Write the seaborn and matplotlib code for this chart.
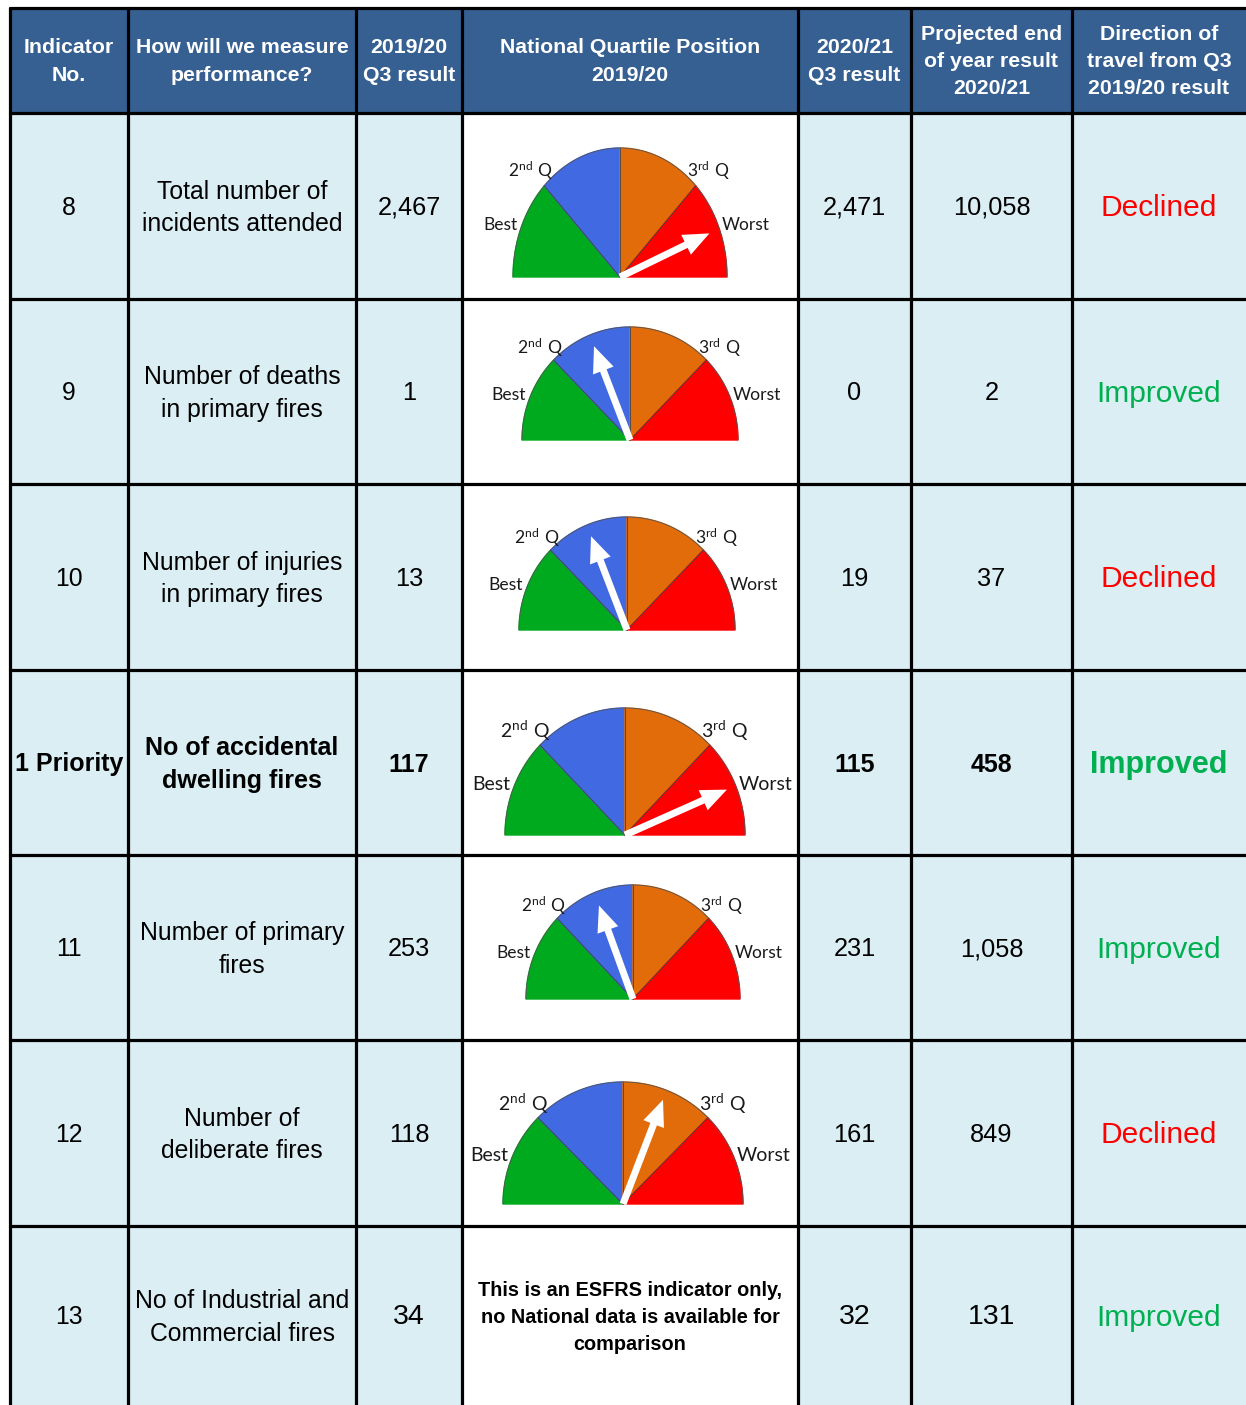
import numpy as np
import matplotlib
matplotlib.use("Agg")
import matplotlib.pyplot as plt
from matplotlib.patches import Rectangle, FancyArrow
import seaborn as sns

# table content
headers = ["Indicator\nNo.", "How will we measure\nperformance?", "2019/20\nQ3 result",
           "National Quartile Position\n2019/20", "2020/21\nQ3 result",
           "Projected end\nof year result\n2020/21", "Direction of\ntravel from Q3\n2019/20 result"]
indicator = ["8", "9", "10", "1 Priority", "11", "12", "13"]
measure = ["Total number of\nincidents attended", "Number of deaths\nin primary fires",
           "Number of injuries\nin primary fires", "No of accidental\ndwelling fires",
           "Number of primary\nfires", "Number of\ndeliberate fires",
           "No of Industrial and\nCommercial fires"]
q3_1920 = ["2,467", "1", "13", "117", "253", "118", "34"]
q3_2021 = ["2,471", "0", "19", "115", "231", "161", "32"]
projected = ["10,058", "2", "37", "458", "1,058", "849", "131"]
direction = ["Declined", "Improved", "Declined", "Improved", "Improved", "Declined", "Improved"]
# needle angle in degrees (0 = worst side, 180 = best side)
needle_deg = [26, 111, 111, 24, 110, 69, None]
no_national = "This is an ESFRS indicator only,\nno National data is available for\ncomparison"

# layout (pixels)
col_edges = [10, 128, 356, 462, 798, 911, 1072, 1246]
row_edges = [8, 113, 299, 484, 670, 855, 1040, 1226, 1405]
# gauge centre x, centre y, radius x, radius y
gauge_geom = [(620, 277, 107, 129), (630, 440, 108, 113), (627, 630, 108, 113),
              (625, 835, 120, 127), (633, 999, 107, 114), (623, 1204, 120, 122)]

sns.set_theme(style="white")
plt.rcParams['font.family'] = ['Liberation Sans', 'DejaVu Sans']
plt.rcParams['text.color'] = 'black'
plt.rcParams['mathtext.fontset'] = 'custom'
plt.rcParams['mathtext.rm'] = 'Lato'

head_blue = "#366092"
cell_blue = "#DAEEF3"
gauge_pal = sns.color_palette(["#00AA1E", "#4169E1", "#E36C0A", "#FF0000"])
dir_colors = {"Declined": "#FF0000", "Improved": "#00B050"}

fig = plt.figure(figsize=(12.46, 14.05), dpi=100)
ax = fig.add_axes([0, 0, 1, 1])
ax.set_xlim(0, 1246)
ax.set_ylim(1405, 0)
ax.axis("off")

# backgrounds
ax.add_patch(Rectangle((col_edges[0], row_edges[0]), col_edges[-1] - col_edges[0],
                       row_edges[1] - row_edges[0], color=head_blue, zorder=0))
ax.add_patch(Rectangle((col_edges[0], row_edges[1]), col_edges[-1] - col_edges[0],
                       row_edges[-1] - row_edges[1], color=cell_blue, zorder=0))
ax.add_patch(Rectangle((col_edges[3], row_edges[1]), col_edges[4] - col_edges[3],
                       row_edges[-1] - row_edges[1], color="white", zorder=0))

# grid lines
for x in col_edges[:-1]:
    ax.plot([x, x], [row_edges[0], row_edges[-1]], color="black", lw=2.3, zorder=5)
for y in row_edges[:-1]:
    ax.plot([col_edges[0], col_edges[-1]], [y, y], color="black", lw=2.3, zorder=5)

xc = [(col_edges[i] + col_edges[i + 1]) / 2 for i in range(len(col_edges) - 1)]
yc = [(row_edges[i] + row_edges[i + 1]) / 2 for i in range(len(row_edges) - 1)]

for i, h in enumerate(headers):
    ax.text(xc[i], yc[0] + 1, h, color="white", fontsize=15.3, fontweight="bold",
            ha="center", va="center", linespacing=1.55, zorder=6)


def draw_gauge(cx, cy, rx, ry, angle):
    for k in range(4):
        t = np.radians(np.linspace(180 - 45 * k, 135 - 45 * k, 40))
        xs = np.concatenate([[cx], cx + rx * np.cos(t), [cx]])
        ys = np.concatenate([[cy], cy - ry * np.sin(t), [cy]])
        ax.fill(xs, ys, color=gauge_pal[k], zorder=2)
        ax.plot(xs[1:-1], ys[1:-1], color="#555555", lw=0.6, zorder=3)
    for a in [135, 90, 45]:
        ax.plot([cx, cx + rx * np.cos(np.radians(a))], [cy, cy - ry * np.sin(np.radians(a))],
                color="#444444", lw=0.6, zorder=3)
    lab = dict(fontsize=12.5 * rx / 107, family="Lato", color="#1a1a1a", zorder=4)
    ax.text(cx - 0.83 * rx, cy - 0.82 * ry, r"$\mathregular{2^{nd}\ Q}$", ha="center", va="center", **lab)
    ax.text(cx + 0.83 * rx, cy - 0.82 * ry, r"$\mathregular{3^{rd}\ Q}$", ha="center", va="center", **lab)
    ax.text(cx - 0.96 * rx, cy - 0.40 * ry, "Best", ha="right", va="center", **lab)
    ax.text(cx + 0.95 * rx, cy - 0.40 * ry, "Worst", ha="left", va="center", **lab)
    L = 0.93 * rx
    a = np.radians(angle)
    ax.add_patch(FancyArrow(cx, cy, L * np.cos(a), -L * np.sin(a), width=7, head_width=22,
                            head_length=26, length_includes_head=True, color="white",
                            lw=0, zorder=4))


for r in range(len(indicator)):
    y = yc[r + 1] + 2
    bold = indicator[r] == "1 Priority"
    last = r == len(indicator) - 1
    fw = "bold" if bold else "normal"
    fs_txt = 18 if bold else 17.8
    fs_num = 18 if bold else (20.5 if last else 18.3)
    ax.text(xc[0], y, indicator[r], fontsize=fs_txt, fontweight=fw, ha="center", va="center", zorder=6)
    ax.text(xc[1], y, measure[r], fontsize=fs_txt, fontweight=fw, ha="center", va="center",
            linespacing=1.45, zorder=6)
    ax.text(xc[2], y, q3_1920[r], fontsize=fs_num, fontweight=fw, ha="center", va="center", zorder=6)
    ax.text(xc[4], y, q3_2021[r], fontsize=fs_num, fontweight=fw, ha="center", va="center", zorder=6)
    ax.text(xc[5], y, projected[r], fontsize=fs_num, fontweight=fw, ha="center", va="center", zorder=6)
    ax.text(xc[6], y, direction[r], fontsize=22 if bold else 21.5, fontweight=fw,
            color=dir_colors[direction[r]], ha="center", va="center", zorder=6)
    if needle_deg[r] is None:
        ax.text(xc[3], y, no_national, fontsize=14.3, fontweight="bold", ha="center",
                va="center", linespacing=1.55, zorder=6)
    else:
        cx, cy, rx, ry = gauge_geom[r]
        draw_gauge(cx, cy, rx, ry, needle_deg[r])

fig.savefig("out.png", dpi=100)
